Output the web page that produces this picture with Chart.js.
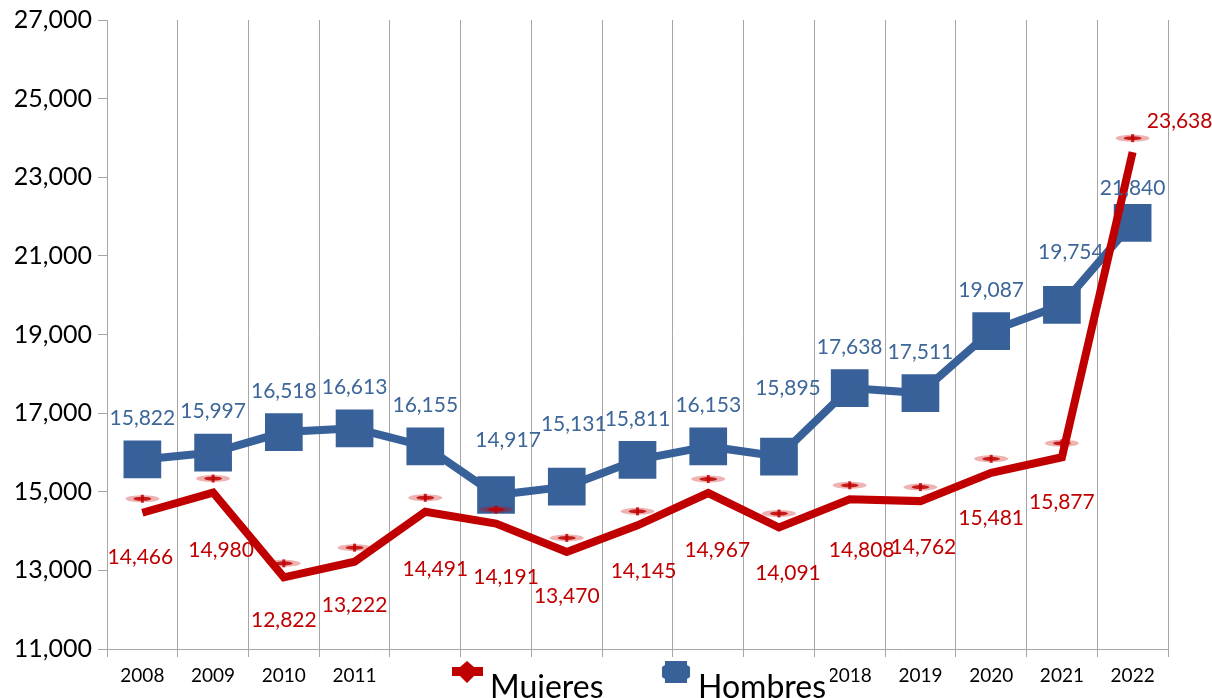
<!DOCTYPE html>
<html>
<head>
<meta charset="utf-8">
<script src="https://cdn.jsdelivr.net/npm/chart.js@4/dist/chart.umd.min.js"></script>
<style>
  html, body { margin: 0; background: #fff; }
  #wrap { width: 1212px; height: 698px; }
</style>
</head>
<body>
<div id="wrap"><canvas id="chart" width="1212" height="698"></canvas></div>
<script>
// Data
const years = ['2008', '2009', '2010', '2011', '2012', '2013', '2014', '2015',
  '2016', '2017', '2018', '2019', '2020', '2021', '2022'];
const mujeres = [14466, 14980, 12822, 13222, 14491, 14191, 13470, 14145,
  14967, 14091, 14808, 14762, 15481, 15877, 23638];
const hombres = [15822, 15997, 16518, 16613, 16155, 14917, 15131, 15811,
  16153, 15895, 17638, 17511, 19087, 19754, 21840];
const yMin = 11000, yMax = 27000, yStep = 2000;

const RED = '#C00000';
const BLUE = '#38619A';
const FONT = 'Lato, "Open Sans", sans-serif';

// label nudges (style only), where the labels sit away from the usual spot
const hombresNudge = { 5: [12, -14], 6: [7, -21], 9: [9, -27], 13: [9, -12], 14: [0, 6] };
const mujeresNudge = {
  0: [-2, -1], 1: [8, 13], 2: [0, -2], 3: [0, -1], 4: [10, 12], 5: [10, 9],
  6: [0, -1], 7: [6, 1], 8: [9, 12], 9: [9, 1], 10: [12, 6], 11: [3, 1],
  14: [47, -76]
};

const fmt = v => v.toLocaleString('en-US');

// data labels, the offset Mujeres markers and the legend
const decorations = {
  id: 'decorations',
  afterDatasetsDraw(chart) {
    const ctx = chart.ctx;
    ctx.save();
    ctx.textAlign = 'center';
    ctx.textBaseline = 'middle';
    ctx.font = '21px ' + FONT;

    // Mujeres: flat marker drawn a bit above each point
    const mMeta = chart.getDatasetMeta(0);
    mMeta.data.forEach(pt => {
      const y = pt.y - 14;
      ctx.fillStyle = 'rgba(200,0,0,0.3)';
      ctx.beginPath();
      ctx.ellipse(pt.x, y, 17, 3.5, 0, 0, Math.PI * 2);
      ctx.fill();
      ctx.fillStyle = 'rgba(192,0,0,0.85)';
      ctx.beginPath();
      ctx.ellipse(pt.x, y, 9, 2, 0, 0, Math.PI * 2);
      ctx.fill();
      ctx.fillRect(pt.x - 1.5, y - 4, 3, 8);
    });

    mMeta.data.forEach((pt, i) => {
      const n = mujeresNudge[i] || [0, 0];
      ctx.fillStyle = RED;
      ctx.fillText(fmt(mujeres[i]), pt.x + n[0], pt.y + 45 + n[1]);
    });

    const hMeta = chart.getDatasetMeta(1);
    hMeta.data.forEach((pt, i) => {
      const n = hombresNudge[i] || [0, 0];
      ctx.fillStyle = '#3D6699';
      ctx.fillText(fmt(hombres[i]), pt.x + n[0], pt.y - 41 + n[1]);
    });

    // legend box, sits over the middle year labels
    ctx.fillStyle = '#fff';
    ctx.fillRect(398, 659, 432, 39);
    ctx.font = '32px ' + FONT;
    ctx.textAlign = 'left';
    ctx.textBaseline = 'alphabetic';

    ctx.fillStyle = RED;
    ctx.beginPath();
    ctx.moveTo(467, 661); ctx.lineTo(474, 667); ctx.lineTo(483, 667);
    ctx.lineTo(483, 676); ctx.lineTo(474, 676); ctx.lineTo(467, 683);
    ctx.lineTo(460, 676); ctx.lineTo(452, 676); ctx.lineTo(452, 667);
    ctx.lineTo(460, 667); ctx.closePath();
    ctx.fill();
    ctx.fillStyle = '#000';
    ctx.fillText(chart.data.datasets[0].label, 490, 698);

    ctx.fillStyle = BLUE;
    ctx.beginPath();
    ctx.moveTo(665, 661); ctx.lineTo(687, 661); ctx.lineTo(687, 665);
    ctx.lineTo(690, 667); ctx.lineTo(690, 677); ctx.lineTo(687, 679);
    ctx.lineTo(687, 683); ctx.lineTo(665, 683); ctx.lineTo(665, 679);
    ctx.lineTo(662, 677); ctx.lineTo(662, 667); ctx.lineTo(665, 665);
    ctx.closePath();
    ctx.fill();
    ctx.fillStyle = '#000';
    ctx.fillText(chart.data.datasets[1].label, 698, 698);
    ctx.restore();
  }
};

new Chart(document.getElementById('chart'), {
  type: 'line',
  data: {
    labels: years,
    datasets: [
      {
        label: 'Mujeres',
        data: mujeres,
        borderColor: RED,
        backgroundColor: RED,
        borderWidth: 8,
        pointRadius: 0,
        tension: 0
      },
      {
        label: 'Hombres',
        data: hombres,
        borderColor: BLUE,
        backgroundColor: BLUE,
        borderWidth: 8,
        pointStyle: 'rect',
        pointRadius: 21,
        pointHoverRadius: 21,
        tension: 0
      }
    ]
  },
  options: {
    responsive: false,
    animation: false,
    devicePixelRatio: 1,
    layout: { autoPadding: false, padding: { top: 20, right: 44, left: 0, bottom: 0 } },
    plugins: { legend: { display: false }, tooltip: { enabled: false } },
    scales: {
      x: {
        offset: true,
        grid: {
          offset: true,
          color: c => (c.index === years.length ? 'rgba(0,0,0,0)' : '#A6A6A6'),
          tickLength: 8,
          lineWidth: 1
        },
        border: { color: '#A6A6A6' },
        ticks: { color: '#000', font: { family: FONT, size: 19 }, maxRotation: 0, autoSkip: false, padding: 7 },
        afterFit(scale) { scale.height = 49; }
      },
      y: {
        min: yMin,
        max: yMax,
        grid: { drawOnChartArea: false, color: '#A6A6A6', tickLength: 9 },
        border: { color: '#A6A6A6' },
        ticks: { stepSize: yStep, color: '#000', font: { family: FONT, size: 25, lineHeight: 0.6 }, padding: 6, callback: v => fmt(v) },
        afterFit(scale) { scale.width = 107; }
      }
    }
  },
  plugins: [decorations]
});
</script>
</body>
</html>
